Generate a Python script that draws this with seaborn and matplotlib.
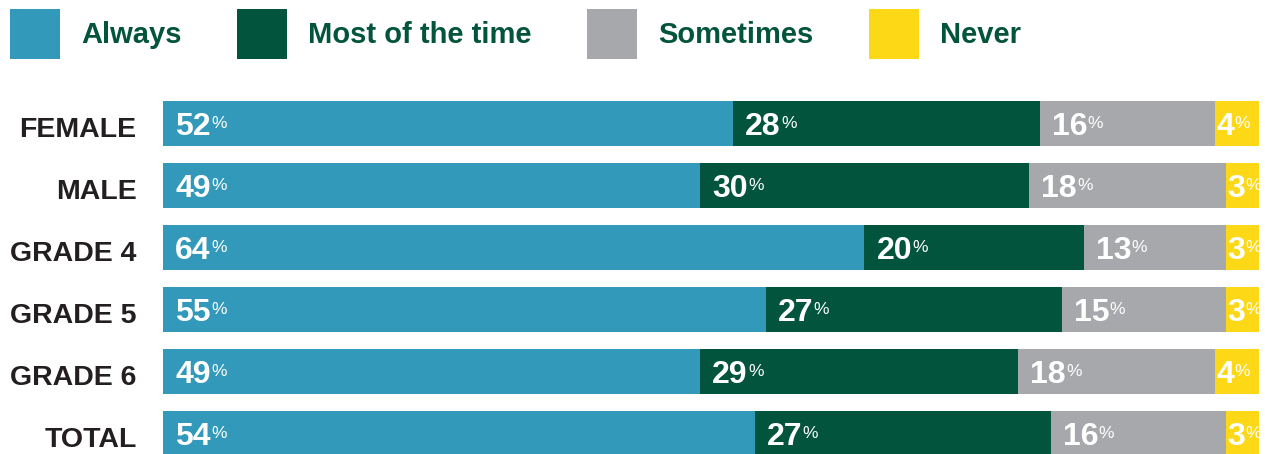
import matplotlib
matplotlib.use("Agg")
import matplotlib.pyplot as plt
from matplotlib.patches import Patch
from matplotlib.transforms import ScaledTranslation
import seaborn as sns
import pandas as pd
import numpy as np

categories = ["FEMALE", "MALE", "GRADE 4", "GRADE 5", "GRADE 6", "TOTAL"]
series_names = ["Always", "Most of the time", "Sometimes", "Never"]
always = [52, 49, 64, 55, 49, 54]
most = [28, 30, 20, 27, 29, 27]
sometimes = [16, 18, 13, 15, 18, 16]
never = [4, 3, 3, 3, 4, 3]
colors = ["#3299BB", "#02543D", "#A7A8AB", "#FDD816"]

sns.set_theme(style="white")
plt.rcParams["font.family"] = ["Liberation Sans", "DejaVu Sans"]

W, H, DPI = 1265, 454, 100
fig = plt.figure(figsize=(W / DPI, H / DPI), dpi=DPI)
ax = fig.add_axes([163 / W, 0, 1096 / W, 362 / H])

values = [always, most, sometimes, never]
cum = np.cumsum(np.array(values), axis=0)
starts = cum - np.array(values)

for k in range(len(series_names) - 1, -1, -1):
    df = pd.DataFrame({"cat": categories, "val": cum[k]})
    sns.barplot(data=df, y="cat", x="val", orient="h", color=colors[k],
                width=0.73, saturation=1, ax=ax, linewidth=0, order=categories)

ax.set_xlim(0, 100)
ax.set_ylim(5.33, -0.508)
ax.set_xlabel("")
ax.set_ylabel("")
ax.set_xticks([])
for s in ax.spines.values():
    s.set_visible(False)
ax.tick_params(axis="y", length=0, pad=19)
ax.set_yticks(range(len(categories)))
ax.set_yticklabels(categories, fontsize=20.5, fontweight="bold", color="#231F20")
shift = ScaledTranslation(0, -3.5 / DPI, fig.dpi_scale_trans)
for lab in ax.get_yticklabels():
    lab.set_transform(lab.get_transform() + shift)

px = 72 / DPI
num_texts = []
for k in range(len(series_names)):
    for i in range(len(categories)):
        v = values[k][i]
        pad = 12 if v >= 5 else 1
        t = ax.annotate(f"{v}", xy=(starts[k][i], i), xytext=(pad * px, -11.5 * px),
                        textcoords="offset points", ha="left", va="baseline",
                        fontsize=23, fontweight="bold", color="white")
        num_texts.append((t, k, i, pad))

fig.canvas.draw()
renderer = fig.canvas.get_renderer()
for t, k, i, pad in num_texts:
    bb = t.get_window_extent(renderer)
    ax.annotate("%", xy=(starts[k][i], i), xytext=((pad + bb.width + 0.5) * px, -4.5 * px),
                textcoords="offset points", ha="left", va="baseline",
                fontsize=12.5, color="white")

handles = [Patch(facecolor=c, edgecolor="none") for c in colors]
fig.legend(handles, series_names, loc="upper left", bbox_to_anchor=(4 / W, 1 - 3 / H),
           ncol=4, frameon=False, prop={"size": 21, "weight": "bold"},
           labelcolor="#03543C", handlelength=1.72, handleheight=2.26,
           handletextpad=0.72, columnspacing=1.9, borderaxespad=0, borderpad=0.2)

fig.savefig("out.png", dpi=DPI)
